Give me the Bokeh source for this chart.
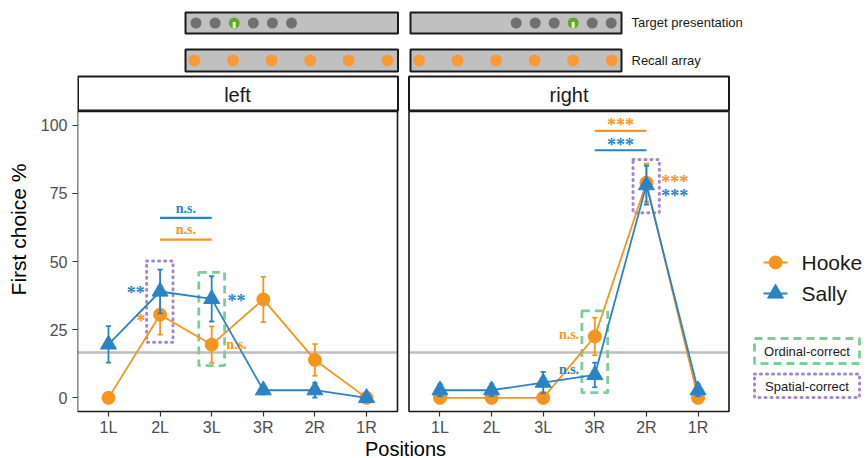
from bokeh.plotting import figure
from bokeh.models import Range1d, FixedTicker
from bokeh.embed import file_html
from bokeh.resources import INLINE
from bokeh.core.properties import value

# ---------------- data ----------------
positions = ["1L", "2L", "3L", "3R", "2R", "1R"]
series_names = ["Hooke", "Sally"]
panel_names = ["left", "right"]
y_ticks = [0, 25, 50, 75, 100]
chance_level = 100 / 6

hooke_left = [0.0, 30.5, 19.5, 36.1, 13.9, 0.0]
hooke_left_err = [0.0, 7.3, 6.7, 8.3, 5.8, 0.0]
sally_left = [19.6, 39.0, 36.3, 2.8, 2.8, 0.0]
sally_left_err = [6.7, 8.0, 8.3, 1.5, 2.7, 0.0]

hooke_right = [0.0, 0.0, 0.0, 22.5, 78.9, 0.0]
hooke_right_err = [0.0, 0.0, 0.0, 6.9, 7.0, 0.0]
sally_right = [2.8, 2.8, 5.6, 8.4, 78.0, 2.8]
sally_right_err = [2.2, 2.2, 3.9, 4.5, 7.1, 2.2]

# significance brackets: from, to, line y, label y, label, series
left_br_from = ["2L", "2L"]
left_br_to = ["3L", "3L"]
left_br_y = [66.0, 58.0]
left_br_label_y = [69.6, 61.6]
left_br_label = ["n.s.", "n.s."]
left_br_series = ["Sally", "Hooke"]

right_br_from = ["3R", "3R"]
right_br_to = ["2R", "2R"]
right_br_y = [97.9, 90.8]
right_br_label_y = [101.1, 93.9]
right_br_label = ["***", "***"]
right_br_series = ["Hooke", "Sally"]

# point significance labels: position, offset (category units), y, label, series
left_pt_pos = ["2L", "2L", "3L", "3L"]
left_pt_off = [-0.47, -0.37, 0.48, 0.48]
left_pt_y = [39.6, 29.2, 36.5, 19.4]
left_pt_label = ["**", "*", "**", "n.s."]
left_pt_series = ["Sally", "Hooke", "Sally", "Hooke"]

right_pt_pos = ["2R", "2R", "3R", "3R"]
right_pt_off = [0.55, 0.55, -0.5, -0.5]
right_pt_y = [80.2, 75.3, 23.1, 10.3]
right_pt_label = ["***", "***", "n.s.", "n.s."]
right_pt_series = ["Hooke", "Sally", "Hooke", "Sally"]

# highlight boxes: position, y low, y high
left_spatial = ("2L", 20.4, 50.2)
left_ordinal = ("3L", 11.8, 46.0)
right_spatial = ("2R", 67.9, 87.4)
right_ordinal = ("3R", 1.9, 31.9)

box_names = ["Ordinal-correct", "Spatial-correct"]

# ---------------- styles / layout ----------------
ORANGE = "#F7941D"
BLUE = "#2B83C6"
GREEN = "#7FCC9A"
PURPLE = "#A385D0"
GREY_LINE = "#BEBEBE"
INK = "#1A1A1A"
SANS = "Liberation Sans"
SERIF = "Liberation Serif"
COLORS = {"Hooke": ORANGE, "Sally": BLUE}
MARKERS = {"Hooke": "circle", "Sally": "triangle"}
MSIZE = {"Hooke": 13, "Sally": 16}

W, H = 867, 458
FRAME_L, PANEL_B = 77, 411
UX = 320 / 6.2          # pixels per category step
UY = 300 / 110          # pixels per percent
X_LO, Y_LO = 0.4, -5.0
R_OFF = (408.5 - FRAME_L) / UX   # shift of the right-hand panel


def px2x(px):
    return X_LO + (px - FRAME_L) / UX


def py2y(py):
    return Y_LO + (PANEL_B - py) / UY


def idx(pos, off=0.0):
    return positions.index(pos) + 1 + off


p = figure(width=W, height=H,
           x_range=Range1d(X_LO, px2x(W)), y_range=Range1d(py2y(H), py2y(0)),
           output_backend="svg", toolbar_location=None,
           min_border_left=FRAME_L, min_border_right=0,
           min_border_top=0, min_border_bottom=0)
p.xgrid.visible = False
p.ygrid.visible = False
p.outline_line_color = None

xs_left = [idx(pos) for pos in positions]
xs_right = [idx(pos, R_OFF) for pos in positions]
p.xaxis.fixed_location = Y_LO
p.xaxis.ticker = FixedTicker(ticks=xs_left + xs_right)
p.xaxis.major_label_overrides = {x: lab for x, lab in zip(xs_left + xs_right, positions + positions)}
p.xaxis.bounds = (X_LO, px2x(733))
p.yaxis.ticker = FixedTicker(ticks=y_ticks)
p.yaxis.bounds = (Y_LO, 105.0)
for ax in [p.xaxis[0], p.yaxis[0]]:
    ax.major_label_text_font = SANS
    ax.major_label_text_font_size = "16px"
    ax.major_label_text_color = "#4D4D4D"
    ax.major_tick_in = 0
    ax.major_tick_out = 5
    ax.major_tick_line_color = "#333333"
    ax.major_tick_line_width = 1.2
    ax.minor_tick_line_color = None
    ax.axis_line_color = None
    ax.axis_label_text_font = SANS
    ax.axis_label_text_font_style = "normal"
    ax.axis_label_text_color = "#000000"
p.xaxis.major_label_standoff = 2
p.xaxis.axis_label = "Positions"
p.xaxis.axis_label_text_font_size = "20px"
p.xaxis.axis_label_standoff = -1
p.yaxis.major_label_standoff = 5
p.yaxis.axis_label = "First choice %"
p.yaxis.axis_label_text_font_size = "21px"
p.yaxis.axis_label_standoff = 8

panel_lo = [X_LO, X_LO + R_OFF]
panel_hi = [X_LO + 6.2, X_LO + 6.2 + R_OFF]
Y_HI = 105.0

# chance level
p.segment(x0=panel_lo, x1=panel_hi, y0=[chance_level] * 2, y1=[chance_level] * 2,
          line_color=GREY_LINE, line_width=2.5)


def draw_panel(off, hooke, hooke_err, sally, sally_err, br, pts, spatial, ordinal):
    xs = [idx(pos, off) for pos in positions]
    sp_pos, sp_lo, sp_hi = spatial
    p.quad(left=[idx(sp_pos, off) - 0.26], right=[idx(sp_pos, off) + 0.25],
           bottom=[sp_lo], top=[sp_hi], fill_color=None,
           line_color=PURPLE, line_width=3, line_dash="1 5", line_cap="round")
    or_pos, or_lo, or_hi = ordinal
    p.quad(left=[idx(or_pos, off) - 0.25], right=[idx(or_pos, off) + 0.25],
           bottom=[or_lo], top=[or_hi], fill_color=None,
           line_color=GREEN, line_width=2.8, line_dash="8 5")

    for name, vals, errs in [("Hooke", hooke, hooke_err), ("Sally", sally, sally_err)]:
        c = COLORS[name]
        p.line(xs, vals, line_color=c, line_width=1.8)
        lo = [v - e for v, e in zip(vals, errs)]
        hi = [v + e for v, e in zip(vals, errs)]
        p.segment(x0=xs, x1=xs, y0=lo, y1=hi, line_color=c, line_width=1.8)
        cl = [x - 0.05 for x in xs]
        cr = [x + 0.05 for x in xs]
        p.segment(x0=cl, x1=cr, y0=lo, y1=lo, line_color=c, line_width=1.8)
        p.segment(x0=cl, x1=cr, y0=hi, y1=hi, line_color=c, line_width=1.8)
        p.scatter(xs, vals, marker=MARKERS[name], size=MSIZE[name],
                  fill_color=c, line_color=c)

    def sig_text(x, y, lab, c):
        star = "*" in lab
        p.text(x=[x], y=[y], text=[lab], text_color=c,
               text_font=value(SERIF), text_font_style="bold",
               text_font_size="18px" if star else "14px",
               text_align="center", text_baseline="middle",
               y_offset=3 if star else 0)

    b_from, b_to, b_y, b_ly, b_lab, b_ser = br
    for f, t, y, ly, lab, ser in zip(b_from, b_to, b_y, b_ly, b_lab, b_ser):
        c = COLORS[ser]
        p.segment(x0=[idx(f, off)], x1=[idx(t, off)], y0=[y], y1=[y],
                  line_color=c, line_width=2.2)
        sig_text((idx(f, off) + idx(t, off)) / 2, ly, lab, c)

    pt_pos, pt_off, pt_y, pt_lab, pt_ser = pts
    for pos, o, y, lab, ser in zip(pt_pos, pt_off, pt_y, pt_lab, pt_ser):
        sig_text(idx(pos, off + o), y, lab, COLORS[ser])


draw_panel(0.0, hooke_left, hooke_left_err, sally_left, sally_left_err,
           (left_br_from, left_br_to, left_br_y, left_br_label_y, left_br_label, left_br_series),
           (left_pt_pos, left_pt_off, left_pt_y, left_pt_label, left_pt_series),
           left_spatial, left_ordinal)
draw_panel(R_OFF, hooke_right, hooke_right_err, sally_right, sally_right_err,
           (right_br_from, right_br_to, right_br_y, right_br_label_y, right_br_label, right_br_series),
           (right_pt_pos, right_pt_off, right_pt_y, right_pt_label, right_pt_series),
           right_spatial, right_ordinal)

# panel borders
p.quad(left=panel_lo, right=panel_hi, bottom=[Y_LO] * 2, top=[Y_HI] * 2,
       fill_color=None, line_color=INK, line_width=1.6)

# strips
p.quad(left=[px2x(77.5), px2x(408.5)], right=[px2x(397.5), px2x(728.5)],
       top=[py2y(76)] * 2, bottom=[py2y(110)] * 2,
       fill_color="white", line_color=INK, line_width=2)
p.text(x=[(panel_lo[0] + panel_hi[0]) / 2, (panel_lo[1] + panel_hi[1]) / 2], y=[py2y(94)] * 2,
       text=panel_names, text_font=value(SANS), text_font_size="20px",
       text_align="center", text_baseline="middle", text_color=INK)

# ---------------- task illustration ----------------
p.quad(left=[px2x(185), px2x(410)] * 2, right=[px2x(397.5), px2x(621)] * 2,
       top=[py2y(12)] * 2 + [py2y(49)] * 2, bottom=[py2y(33)] * 2 + [py2y(71)] * 2,
       fill_color="#C0C0C0", line_color=INK, line_width=2)

tgt_left_px = [195.5 + 19.1 * i for i in range(6)]
tgt_right_px = [515.7 + 19.0 * i for i in range(6)]
icon_left, icon_right = 2, 3
grey_px = [x for i, x in enumerate(tgt_left_px) if i != icon_left] + \
          [x for i, x in enumerate(tgt_right_px) if i != icon_right]
p.scatter([px2x(x) for x in grey_px], [py2y(22.5)] * len(grey_px), size=11,
          fill_color="#707070", line_color=None)
icon_px = [tgt_left_px[icon_left], tgt_right_px[icon_right]]
p.scatter([px2x(x) for x in icon_px], [py2y(22.5)] * 2, size=11,
          fill_color="#5FA833", line_color=None)
p.rect([px2x(x) for x in icon_px], [py2y(24.5)] * 2, width=3, height=6,
       width_units="screen", height_units="screen", fill_color="#EEF3C0", line_color=None)

rec_px = [193.8 + 38.6 * i for i in range(6)] + [418.6 + 38.5 * i for i in range(6)]
p.scatter([px2x(x) for x in rec_px], [py2y(60)] * len(rec_px), size=12,
          fill_color="#F79A3A", line_color=None)

p.text(x=[px2x(631)] * 2, y=[py2y(22), py2y(60)], text=["Target presentation", "Recall array"],
       text_font=value(SANS), text_font_size="13px", text_baseline="middle", text_color=INK)

# ---------------- legend ----------------
leg_py = [262, 293]
for name, py in zip(series_names, leg_py):
    c = COLORS[name]
    p.segment(x0=[px2x(763)], x1=[px2x(787)], y0=[py2y(py)], y1=[py2y(py)],
              line_color=c, line_width=2)
    p.scatter([px2x(775)], [py2y(py)], marker=MARKERS[name], size=MSIZE[name],
              fill_color=c, line_color=c)
p.text(x=[px2x(801)] * 2, y=[py2y(v) for v in leg_py], text=series_names,
       text_font=value(SANS), text_font_size="21px", text_baseline="middle", text_color=INK)
p.quad(left=[px2x(754)], right=[px2x(859)], top=[py2y(338)], bottom=[py2y(363)],
       fill_color=None, line_color=GREEN, line_width=2.8, line_dash="8 5")
p.quad(left=[px2x(754)], right=[px2x(859)], top=[py2y(373.5)], bottom=[py2y(397)],
       fill_color=None, line_color=PURPLE, line_width=3, line_dash="1 5", line_cap="round")
p.text(x=[px2x(806.5)] * 2, y=[py2y(350.5), py2y(385.5)], text=box_names,
       text_font=value(SANS), text_font_size="13px", text_align="center",
       text_baseline="middle", text_color=INK)

open("out.html", "w").write(file_html(p, INLINE))
